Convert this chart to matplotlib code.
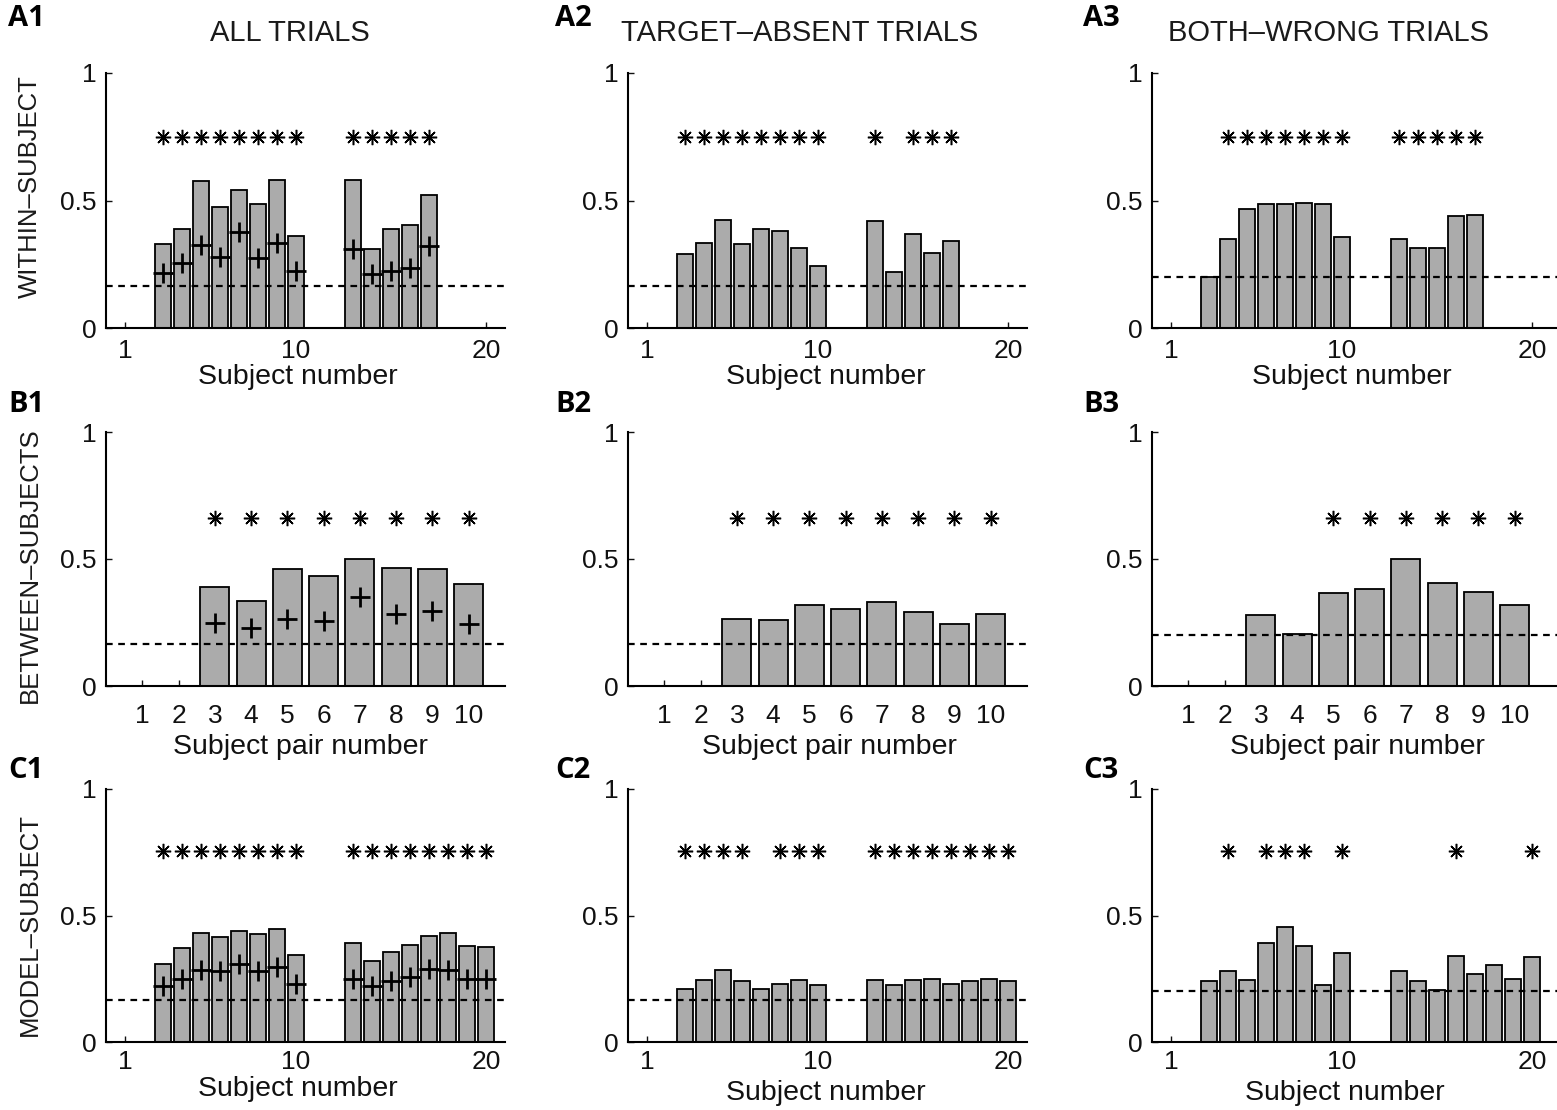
import matplotlib
matplotlib.use("Agg")
import matplotlib.pyplot as plt

plt.rcParams['font.family'] = ['Liberation Sans', 'DejaVu Sans']

# --- data ---
subj_a = [3, 4, 5, 6, 7, 8, 9, 10, 13, 14, 15, 16, 17]
subj_c = [3, 4, 5, 6, 7, 8, 9, 10, 13, 14, 15, 16, 17, 18, 19, 20]
pairs_b = [3, 4, 5, 6, 7, 8, 9, 10]

a1_vals = [0.33, 0.39, 0.575, 0.475, 0.54, 0.485, 0.58, 0.36, 0.58, 0.31, 0.39, 0.405, 0.52]
a1_plus = [0.215, 0.255, 0.325, 0.28, 0.375, 0.275, 0.335, 0.225, 0.31, 0.21, 0.225, 0.235, 0.32]
a1_star = [3, 4, 5, 6, 7, 8, 9, 10, 13, 14, 15, 16, 17]
a2_vals = [0.29, 0.335, 0.425, 0.33, 0.39, 0.38, 0.315, 0.245, 0.42, 0.22, 0.37, 0.295, 0.34]
a2_star = [3, 4, 5, 6, 7, 8, 9, 10, 13, 15, 16, 17]
a3_vals = [0.2, 0.35, 0.465, 0.485, 0.485, 0.49, 0.485, 0.355, 0.35, 0.315, 0.315, 0.44, 0.445]
a3_star = [4, 5, 6, 7, 8, 9, 10, 13, 14, 15, 16, 17]

b1_vals = [0.39, 0.335, 0.46, 0.435, 0.5, 0.465, 0.46, 0.40]
b1_plus = [0.25, 0.23, 0.265, 0.255, 0.35, 0.285, 0.295, 0.245]
b1_star = [3, 4, 5, 6, 7, 8, 9, 10]
b2_vals = [0.265, 0.26, 0.32, 0.305, 0.33, 0.29, 0.245, 0.285]
b2_star = [3, 4, 5, 6, 7, 8, 9, 10]
b3_vals = [0.28, 0.205, 0.365, 0.38, 0.5, 0.405, 0.37, 0.32]
b3_star = [5, 6, 7, 8, 9, 10]

c1_vals = [0.31, 0.37, 0.43, 0.415, 0.44, 0.425, 0.445, 0.345,
           0.39, 0.32, 0.355, 0.385, 0.42, 0.43, 0.38, 0.375]
c1_plus = [0.22, 0.25, 0.285, 0.28, 0.31, 0.28, 0.295, 0.23,
           0.25, 0.22, 0.24, 0.255, 0.29, 0.285, 0.25, 0.25]
c1_star = [3, 4, 5, 6, 7, 8, 9, 10, 13, 14, 15, 16, 17, 18, 19, 20]
c2_vals = [0.21, 0.245, 0.285, 0.24, 0.21, 0.23, 0.245, 0.225,
           0.245, 0.225, 0.245, 0.25, 0.23, 0.24, 0.25, 0.24]
c2_star = [3, 4, 5, 6, 8, 9, 10, 13, 14, 15, 16, 17, 18, 19, 20]
c3_vals = [0.24, 0.28, 0.245, 0.39, 0.455, 0.38, 0.225, 0.35,
           0.28, 0.24, 0.205, 0.34, 0.27, 0.305, 0.25, 0.335]
c3_star = [4, 6, 7, 8, 10, 16, 20]

chance = [1/6, 1/6, 0.2]
col_titles = ["ALL TRIALS", "TARGET\u2013ABSENT TRIALS", "BOTH\u2013WRONG TRIALS"]
row_names = ["WITHIN\u2013SUBJECT", "BETWEEN\u2013SUBJECTS", "MODEL\u2013SUBJECT"]

W, H = 1557, 1110
fig = plt.figure(figsize=(W / 100, H / 100), dpi=100)

lefts = [106, 628, 1152]
bottoms = [328, 686, 1042]
tops = [73, 432, 789]
ax_w = 399


def panel(ax, x, vals, plus, stars, level, star_y, xlim, xticks, pad):
    ax.bar(x, vals, width=0.8, color='#ababab', edgecolor='black', linewidth=1.3, zorder=2)
    ax.axhline(level, color='black', lw=1.6, ls=(0, (3, 2.5)), zorder=3)
    if plus is not None:
        ax.plot(x, plus, ls='none', marker='+', color='black', ms=14, mew=2.0, zorder=4)
    ax.plot(stars, [star_y] * len(stars), ls='none', marker=(8, 2, 0),
            color='black', ms=11, mew=1.1, zorder=4)
    ax.set_xlim(*xlim)
    ax.set_ylim(0, 1)
    ax.set_xticks(xticks)
    ax.set_yticks([0, 0.5, 1])
    ax.set_yticklabels(['0', '0.5', '1'])
    for s in ['top', 'right']:
        ax.spines[s].set_visible(False)
    for s in ['left', 'bottom']:
        ax.spines[s].set_linewidth(1.5)
    ax.tick_params(direction='in', length=4, width=1, labelsize=19, colors='#111111')
    ax.tick_params(axis='x', pad=pad)
    ax.tick_params(axis='y', pad=7)
    ax.patch.set_alpha(0)


panels = [
    [(subj_a, a1_vals, a1_plus, a1_star), (subj_a, a2_vals, None, a2_star), (subj_a, a3_vals, None, a3_star)],
    [(pairs_b, b1_vals, b1_plus, b1_star), (pairs_b, b2_vals, None, b2_star), (pairs_b, b3_vals, None, b3_star)],
    [(subj_c, c1_vals, c1_plus, c1_star), (subj_c, c2_vals, None, c2_star), (subj_c, c3_vals, None, c3_star)],
]
star_levels = [0.75, 0.66, 0.755]
xlims = [(0, 21), (0, 11), (0, 21)]
xtick_sets = [[1, 10, 20], list(range(1, 11)), [1, 10, 20]]
pads = [8, 13, 6]

for r in range(3):
    for c in range(3):
        w = ax_w + (8 if c == 2 else 0)
        rect = [lefts[c] / W, 1 - bottoms[r] / H, w / W, (bottoms[r] - tops[r]) / H]
        ax = fig.add_axes(rect)
        x, vals, plus, stars = panels[r][c]
        xl = xlims[r]
        if c == 2:
            xl = (xl[0], xl[1] + (xl[1] - xl[0]) * 8 / ax_w)
        panel(ax, x, vals, plus, stars, chance[c], star_levels[r], xl, xtick_sets[r], pads[r])

# titles
title_x = [290, 800, 1328]
for c in range(3):
    fig.text(title_x[c] / W, 1 - 33 / H, col_titles[c], ha='center', va='center',
             fontsize=21, color='#1a1a1a')

# x labels
xlab_pos = [[(298, 377), (826, 377), (1352, 377)],
            [(300, 747), (829, 747), (1357, 747)],
            [(298, 1089), (826, 1093), (1345, 1093)]]
xlab_txt = ["Subject number", "Subject pair number", "Subject number"]
for r in range(3):
    for c in range(3):
        px, py = xlab_pos[r][c]
        fig.text(px / W, 1 - py / H, xlab_txt[r], ha='center', va='center',
                 fontsize=20.5, color='#111111')

# row labels
row_y = [187, 565, 925]
for r in range(3):
    fig.text(30 / W, 1 - row_y[r] / H, row_names[r], rotation=90, ha='center', va='center',
             fontsize=18.5, color='#1a1a1a')

# panel letters
letter_x = [8, 555, 1083]
letter_y = [18, 404, 771]
for r, row in enumerate("ABC"):
    for c in range(3):
        fig.text(letter_x[c] / W, 1 - letter_y[r] / H, f"{row}{c + 1}", ha='left', va='center',
                 fontsize=21, fontweight='bold', family=['Open Sans', 'DejaVu Sans'])

fig.savefig("out.png", dpi=100, facecolor='white')
